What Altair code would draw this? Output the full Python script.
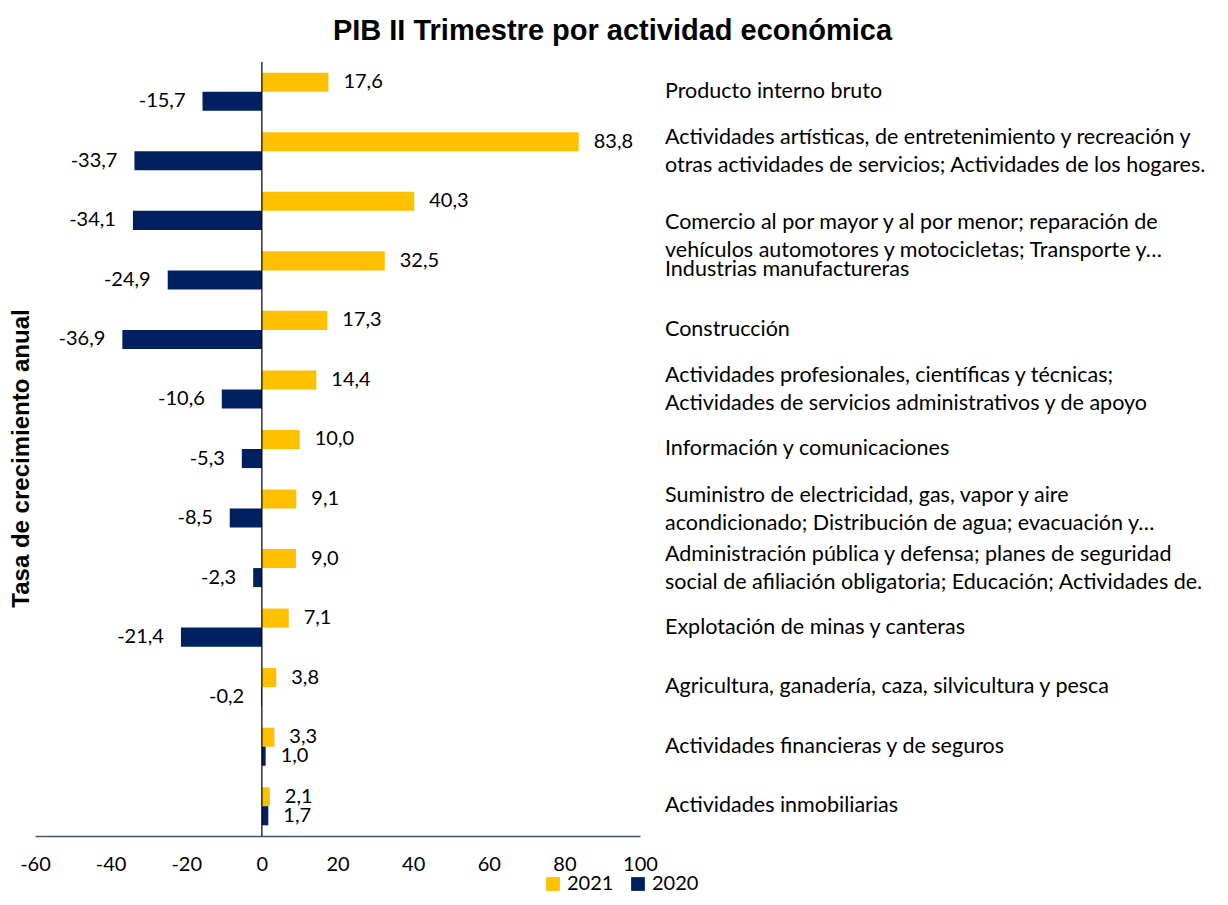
import altair as alt
import pandas as pd

categories = [
    "Producto interno bruto",
    "Actividades artísticas, de entretenimiento y recreación y\notras actividades de servicios; Actividades de los hogares.",
    "Comercio al por mayor y al por menor; reparación de\nvehículos automotores y motocicletas; Transporte y…",
    "Industrias manufactureras",
    "Construcción",
    "Actividades profesionales, científicas y técnicas;\nActividades de servicios administrativos y de apoyo",
    "Información y comunicaciones",
    "Suministro de electricidad, gas, vapor y aire\nacondicionado; Distribución de agua; evacuación y…",
    "Administración pública y defensa; planes de seguridad\nsocial de afiliación obligatoria; Educación; Actividades de.",
    "Explotación de minas y canteras",
    "Agricultura, ganadería, caza, silvicultura y pesca",
    "Actividades financieras y de seguros",
    "Actividades inmobiliarias",
]
values_2021 = [17.6, 83.8, 40.3, 32.5, 17.3, 14.4, 10.0, 9.1, 9.0, 7.1, 3.8, 3.3, 2.1]
values_2020 = [-15.7, -33.7, -34.1, -24.9, -36.9, -10.6, -5.3, -8.5, -2.3, -21.4, -0.2, 1.0, 1.7]
years = ["2021", "2020"]
x_ticks = [-60, -40, -20, 0, 20, 40, 60, 80, 100]

shifted_label = categories[2]
single_line = [c for c in categories if "\n" not in c]
two_line = [c for c in categories if "\n" in c and c != shifted_label]

rows = []
for c, a, b in zip(categories, values_2021, values_2020):
    rows.append({"cat": c, "year": "2021", "value": a})
    rows.append({"cat": c, "year": "2020", "value": b})
df = pd.DataFrame(rows)
cat_df = pd.DataFrame({"cat": categories})

FONT = "Lato"

y_enc = alt.Y(
    "cat:N", sort=categories,
    scale=alt.Scale(domain=categories, paddingInner=0.36, paddingOuter=0.18),
    axis=alt.Axis(title="Tasa de crecimiento anual", labels=False, ticks=False, domain=False,
                  grid=False, titleFont="Liberation Sans", titleFontSize=24,
                  titleFontWeight="bold", titleColor="#000000", titleAngle=270,
                  titleX=-7, titleY=396, titleAlign="center", titleBaseline="alphabetic"),
)
yoff = alt.YOffset("year:N", sort=years, scale=alt.Scale(domain=years))
x_enc = alt.X(
    "value:Q",
    scale=alt.Scale(domain=[-60, 100], nice=False, zero=False),
    axis=alt.Axis(values=x_ticks, title=None, grid=False, ticks=False, domainColor="#44546A",
                  domainWidth=1.5, labelFont=FONT, labelFontSize=20, labelColor="#000000",
                  labelPadding=18, labelFlush=False,
                  labelExpr="datum.value < 0 ? '-' + abs(datum.value) : '' + datum.value"),
)
color = alt.Color(
    "year:N", sort=years,
    scale=alt.Scale(domain=years, range=["#FFC000", "#002060"]),
    legend=alt.Legend(title=None, orient="none", legendX=508, legendY=812, direction="horizontal",
                      symbolType="square", symbolSize=190, symbolStrokeWidth=0,
                      labelFont=FONT, labelFontSize=20, labelColor="#000000", columnPadding=14,
                      labelOffset=4),
)

base = alt.Chart(df)
bars = base.mark_bar().encode(y=y_enc, yOffset=yoff, x=x_enc, color=color)

zero_rule = alt.Chart(pd.DataFrame({"zero": [0]})).mark_rule(color="#000000", strokeWidth=1.2).encode(
    x=alt.X("zero:Q")
)

lab_base = base.transform_calculate(
    label="(datum.value < 0 ? '-' : '') + replace(format(abs(datum.value), '.1f'), '.', ',')"
)
pos_labels = lab_base.transform_filter("datum.value >= 0").mark_text(
    align="left", baseline="middle", dx=15, font=FONT, fontSize=20, color="#000000"
).encode(y=y_enc, yOffset=yoff, x=x_enc, text="label:N")
neg_labels = lab_base.transform_filter("datum.value < 0").mark_text(
    align="right", baseline="middle", dx=-17, font=FONT, fontSize=20, color="#000000"
).encode(y=y_enc, yOffset=yoff, x=x_enc, text="label:N")


def cat_layer(subset, dy):
    return alt.Chart(cat_df).transform_filter(
        alt.FieldOneOfPredicate(field="cat", oneOf=subset)
    ).mark_text(
        align="left", baseline="middle", lineBreak="\n", font=FONT, fontSize=21.5, lineHeight=28,
        color="#000000", dy=dy
    ).encode(y=y_enc, x=alt.value(630), text="cat:N")


cat_single = cat_layer(single_line, 0)
cat_two = cat_layer(two_line, -13)
cat_shift = cat_layer([shifted_label], 12)

chart = alt.layer(bars, zero_rule, pos_labels, neg_labels, cat_single, cat_two, cat_shift).properties(
    width=605, height=774,
    background="white",
    padding={"left": 27, "top": 54, "right": 576, "bottom": 60},
    autosize=alt.AutoSizeParams(type="none"),
    title=alt.TitleParams("PIB II Trimestre por actividad económica", font="Liberation Sans",
                          fontSize=29, fontWeight="bold", color="#000000", anchor="middle",
                          frame="group", dx=275, offset=15),
).configure_view(strokeWidth=0, stroke=None)

chart.save("out.html", embed_options={"renderer": "svg", "actions": False})
